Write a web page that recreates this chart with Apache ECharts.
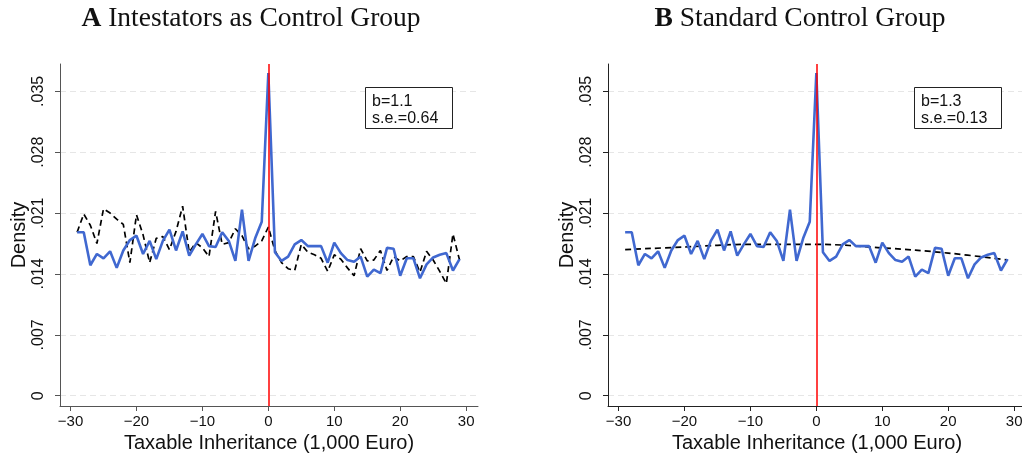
<!DOCTYPE html>
<html>
<head>
<meta charset="utf-8">
<script src="https://cdn.jsdelivr.net/npm/echarts@6/dist/echarts.min.js"></script>
<style>
  html, body { margin: 0; padding: 0; background: #fff; }
  #chart { width: 1022px; height: 454px; }
</style>
</head>
<body>
<div id="chart"></div>
<script>
// bins of taxable inheritance, 1,000 euro
var bins = [-29,-28,-27,-26,-25,-24,-23,-22,-21,-20,-19,-18,-17,-16,-15,-14,-13,-12,-11,-10,
  -9,-8,-7,-6,-5,-4,-3,-2,-1,0,1,2,3,4,5,6,7,8,9,10,
  11,12,13,14,15,16,17,18,19,20,21,22,23,24,25,26,27,28,29];

// density of the treated (blue, same in both panels)
var treated = [.0188,.0188,.0150,.0163,.0158,.0166,.0147,.0167,.0179,.0184,
  .0163,.0178,.0157,.0178,.0191,.0167,.0189,.0161,.0174,.0186,
  .0172,.0171,.0188,.0178,.0155,.0214,.0155,.0181,.0200,.0371,
  .0165,.0155,.0160,.0174,.0179,.0172,.0172,.0172,.0153,.0176,
  .0164,.0156,.0154,.0160,.0137,.0145,.0141,.0170,.0169,.0138,
  .0158,.0158,.0135,.0151,.0159,.0162,.0164,.0144,.0157];

// panel A: intestators (black dashed)
var intestators = [.0188,.0209,.0196,.0175,.0215,.0210,.0203,.0197,.0153,.0208,
  .0185,.0153,.0181,.0183,.0168,.0189,.0218,.0165,.0176,.0170,
  .0160,.0212,.0174,.0176,.0192,.0184,.0169,.0172,.0178,.0194,
  .0167,.0153,.0146,.0144,.0174,.0165,.0162,.0158,.0143,.0162,
  .0157,.0147,.0138,.0169,.0155,.0156,.0167,.0144,.0160,.0155,
  .0160,.0160,.0142,.0166,.0156,.0143,.0129,.0186,.0156];

// panel B: standard counterfactual fit (black dashed)
var fitBins = [-29, -20, -10, 0, 10, 20, 29];
var fitB = [.0168, .0171, .0174, .0174, .0170, .0164, .0156];

var yTicks = [0, .007, .014, .021, .028, .035];
var xTicks = [-30, -20, -10, 0, 10, 20, 30];

var titles = ['Intestators as Control Group', 'Standard Control Group'];
var letters = ['A', 'B'];
var stats = ['b=1.1\ns.e.=0.64', 'b=1.3\ns.e.=0.13'];

function pairs(xs, ys) {
  return xs.map(function (x, i) { return [x, ys[i]]; });
}

var sans = 'Liberation Sans, Arial, sans-serif';
var gridLeft = [60, 608];
var axisCol = ['#555', '#222'];

var grids = [], xAxes = [], yAxes = [], series = [], graphics = [];
[0, 1].forEach(function (p) {
  grids.push({ left: gridLeft[p], top: 64, width: 418, height: 342, containLabel: false, outerBoundsMode: 'none' });
  xAxes.push({
    type: 'value', gridIndex: p, min: -31.6, max: 31.8,
    name: 'Taxable Inheritance (1,000 Euro)', nameLocation: 'middle', nameGap: 24,
    nameTextStyle: { fontFamily: sans, fontSize: 20, color: '#111' },
    axisLine: { onZero: false, lineStyle: { color: axisCol[p], width: 1 } },
    axisTick: { length: 5, customValues: xTicks, lineStyle: { color: axisCol[p] } },
    axisLabel: {
      customValues: xTicks, margin: 8, fontFamily: sans, fontSize: 15, color: '#111',
      formatter: function (v) { return v < 0 ? '\u2212' + Math.abs(v) : String(v); }
    },
    splitLine: { show: false }
  });
  yAxes.push({
    type: 'value', gridIndex: p, min: -0.00118, max: 0.03814,
    name: 'Density', nameLocation: 'middle', nameGap: 31,
    nameTextStyle: { fontFamily: sans, fontSize: 20, color: '#111' },
    axisLine: { show: true, onZero: false, lineStyle: { color: axisCol[p], width: 1 } },
    axisTick: { show: true, length: 5, customValues: yTicks, lineStyle: { color: axisCol[p] } },
    axisLabel: {
      customValues: yTicks, rotate: 90, margin: 13, fontFamily: sans, fontSize: 16, color: '#111',
      formatter: function (v) { return v === 0 ? '0' : v.toFixed(3).slice(1); }
    },
    splitLine: { show: true, lineStyle: { color: '#e6e6e6', type: [6, 4], width: 1 } }
  });

  series.push({
    type: 'line', xAxisIndex: p, yAxisIndex: p, z: 2,
    data: p === 0 ? pairs(bins, intestators) : pairs(fitBins, fitB),
    smooth: p === 1 ? 0.4 : false,
    showSymbol: false, symbol: 'none',
    lineStyle: { color: '#000', width: 1.7, type: [6, 4] }
  });
  series.push({
    type: 'line', xAxisIndex: p, yAxisIndex: p, z: 3,
    data: pairs(bins, treated),
    showSymbol: false, symbol: 'none',
    lineStyle: { color: '#4068d0', width: 2.6 }
  });
  series.push({
    type: 'line', xAxisIndex: p, yAxisIndex: p, z: 4, data: [],
    markLine: {
      silent: true, symbol: 'none', label: { show: false },
      lineStyle: { color: '#ff0000', width: 1.5, type: 'solid' },
      data: [{ xAxis: 0 }]
    }
  });

  graphics.push({
    type: 'text', x: p === 0 ? 251 : 800, y: 19,
    style: {
      text: '{b|' + letters[p] + '} ' + titles[p],
      align: 'center', verticalAlign: 'middle',
      font: '27.5px Liberation Serif, serif', fill: '#111',
      rich: { b: { fontWeight: 'bold', fontSize: 27.5, fontFamily: 'Liberation Serif, serif' } }
    }
  });
  graphics.push({
    type: 'rect', shape: { x: p === 0 ? 365.5 : 914.5, y: 87.5, width: 87, height: 41 },
    style: { fill: '#fff', stroke: '#222', lineWidth: 1 }, z: 10
  });
  graphics.push({
    type: 'text', x: p === 0 ? 372 : 921, y: 93, z: 11,
    style: { text: stats[p], font: '16px Liberation Sans, Arial, sans-serif', fill: '#111', lineHeight: 17 }
  });
});

var chart = echarts.init(document.getElementById('chart'), null, { renderer: 'canvas' });
chart.setOption({
  animation: false,
  backgroundColor: '#fff',
  grid: grids,
  xAxis: xAxes,
  yAxis: yAxes,
  series: series,
  graphic: graphics
});
</script>
</body>
</html>
